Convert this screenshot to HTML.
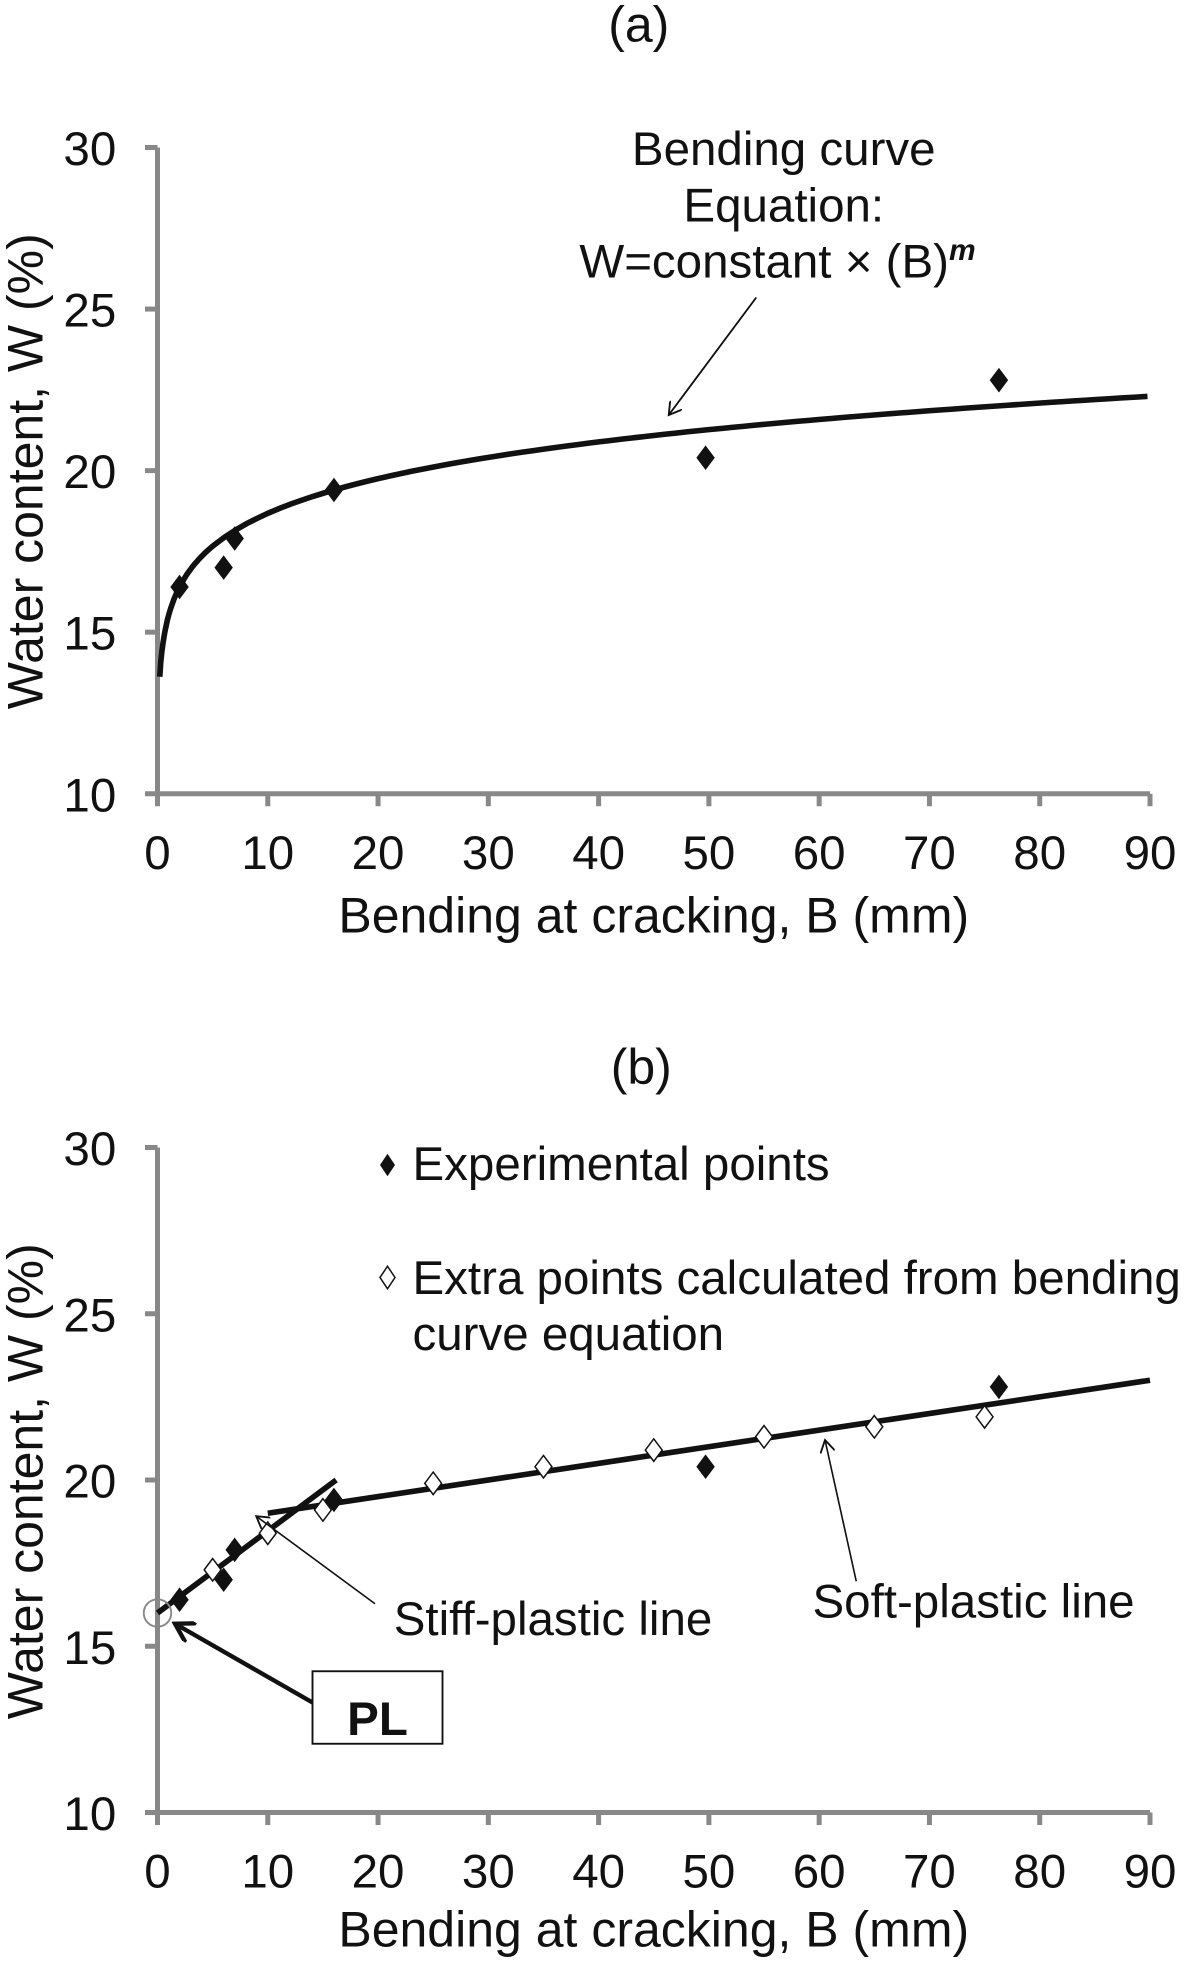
<!DOCTYPE html>
<html><head><meta charset="utf-8"><style>
html,body{margin:0;padding:0;background:#fff;}
svg{display:block;}
text{font-family:"Liberation Sans",Arial,sans-serif;fill:#111;}
</style></head><body>
<svg id="s" width="1200" height="1962" viewBox="0 0 960 1569.6" xmlns="http://www.w3.org/2000/svg">
<rect width="960" height="1569.6" fill="#fff"/>
<defs>
<marker id="ah" markerWidth="12" markerHeight="12" refX="10" refY="6" orient="auto" markerUnits="userSpaceOnUse"><path d="M0,0 L10,6 L0,12" fill="none" stroke="#111" stroke-width="1.5"/></marker>
<marker id="ah2" markerWidth="18" markerHeight="18" refX="15" refY="9" orient="auto" markerUnits="userSpaceOnUse"><path d="M0,0 L15,9 L0,18" fill="none" stroke="#111" stroke-width="3.5"/></marker>
</defs>
<text x="511" y="33" font-size="40" text-anchor="middle">(a)</text>
<text x="513" y="867" font-size="40" text-anchor="middle">(b)</text>
<g id="g"></g>
<text transform="translate(34,377) rotate(-90)" font-size="40" text-anchor="middle">Water content, W (%)</text>
<text x="523" y="746" font-size="40" text-anchor="middle">Bending at cracking, B (mm)</text>
<text transform="translate(34,1185) rotate(-90)" font-size="40" text-anchor="middle">Water content, W (%)</text>
<text x="523" y="1557" font-size="40" text-anchor="middle">Bending at cracking, B (mm)</text>
<text x="627" y="132" font-size="38" text-anchor="middle">Bending curve</text>
<text x="627" y="177" font-size="38" text-anchor="middle">Equation:</text>
<text x="622" y="222" font-size="38" text-anchor="middle">W=constant × (B)<tspan dy="-14" font-size="24" font-style="italic" font-weight="bold">m</tspan></text>
<line x1="605" y1="238" x2="535" y2="332" stroke="#111" stroke-width="1.5" marker-end="url(#ah)"/>
<path d="M310,923 L316,932 L310,941 L304,932Z" fill="#111"/>
<text x="330" y="944" font-size="38">Experimental points</text>
<path d="M310,1013 L316,1022 L310,1031 L304,1022Z" fill="#fff" stroke="#111" stroke-width="1.2"/>
<text x="330" y="1035" font-size="38">Extra points calculated from bending</text>
<text x="330" y="1080" font-size="38">curve equation</text>
<text x="315" y="1308" font-size="38">Stiff-plastic line</text>
<line x1="300" y1="1283" x2="205" y2="1213" stroke="#111" stroke-width="1.3" marker-end="url(#ah)"/>
<text x="650" y="1294" font-size="38">Soft-plastic line</text>
<line x1="685" y1="1265" x2="660" y2="1152" stroke="#111" stroke-width="1.3" marker-end="url(#ah)"/>
<rect x="250" y="1337" width="104" height="58" fill="#fff" stroke="#111" stroke-width="1.5"/>
<text x="302" y="1388" font-size="38" font-weight="bold" text-anchor="middle">PL</text>
<line x1="250" y1="1362" x2="140" y2="1299" stroke="#111" stroke-width="3.5" marker-end="url(#ah2)"/>
</svg>
<script>
var g=document.getElementById('g'),h='';
function ax(y30,y10){
 var X=function(b){return 126+b*794/90},Y=function(w){return y10-(w-10)*(y10-y30)/20};
 h+='<path d="M126,'+y30+' L126,'+y10+' L920,'+y10+'" fill="none" stroke="#888" stroke-width="4"/>';
 for(var w=10;w<=30;w+=5){h+='<line x1="116" x2="126" y1="'+Y(w)+'" y2="'+Y(w)+'" stroke="#888" stroke-width="4"/><text x="93" y="'+(Y(w)+14)+'" font-size="38" text-anchor="end">'+w+'</text>';}
 for(var b=0;b<=90;b+=10){h+='<line x1="'+X(b)+'" x2="'+X(b)+'" y1="'+y10+'" y2="'+(y10+10)+'" stroke="#888" stroke-width="4"/><text x="'+X(b)+'" y="'+(y10+60)+'" font-size="38" text-anchor="middle">'+b+'</text>';}
 return [X,Y];
}
function dm(x,y,f,r){r=r||9;return '<path d="M'+x+','+(y-r)+' L'+(x+r*0.75)+','+y+' L'+x+','+(y+r)+' L'+(x-r*0.75)+','+y+'Z" fill="'+(f?'#111':'#fff')+'" stroke="#111" stroke-width="'+(f?1:1.2)+'"/>';}
var exp=[[2,16.4],[6,17],[7,17.9],[16,19.4],[49.7,20.4],[76.3,22.8]];
var A=ax(118,635),X=A[0],Y=A[1],d='';
for(var b=0.2;b<=89.9;b+=(b<5?0.1:1)){var w=15.51*Math.pow(b,0.0807);d+=(d?'L':'M')+X(b).toFixed(1)+','+Y(w).toFixed(1);}
d+='L918,'+Y(15.51*Math.pow(89.8,0.0807)).toFixed(1);
h+='<path d="'+d+'" fill="none" stroke="#111" stroke-width="4.5"/>';
exp.forEach(function(p){h+=dm(X(p[0]),Y(p[1]),1);});
var B=ax(918,1450);X=B[0];Y=B[1];
h+='<line x1="'+X(0)+'" y1="'+Y(16)+'" x2="'+X(16.2)+'" y2="'+Y(20)+'" stroke="#111" stroke-width="4.5"/>';
h+='<line x1="'+X(10)+'" y1="'+Y(19)+'" x2="'+X(90)+'" y2="'+Y(23)+'" stroke="#111" stroke-width="4.5"/>';
[[5,17.3],[10,18.4],[15,19.1],[25,19.9],[35,20.4],[45,20.9],[55,21.3],[65,21.6],[75,21.9]].forEach(function(p){h+=dm(X(p[0]),Y(p[1]),0);});
exp.forEach(function(p){h+=dm(X(p[0]),Y(p[1]),1);});
h+='<circle cx="'+X(0)+'" cy="'+Y(16)+'" r="11" fill="none" stroke="#888" stroke-width="1.5"/>';
g.innerHTML=h;
</script>
</body></html>
